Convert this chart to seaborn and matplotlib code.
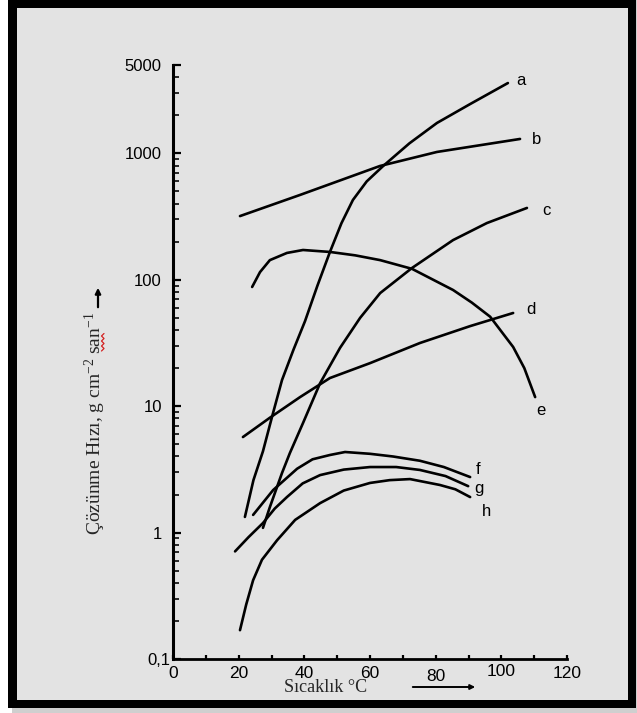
import numpy as np
import pandas as pd
import seaborn as sns
import matplotlib.pyplot as plt
import matplotlib.transforms as mtransforms
from matplotlib.patches import Rectangle
from matplotlib.lines import Line2D
from matplotlib.ticker import FixedLocator, LogLocator, NullFormatter

# --- dissolution rate curves: temperature (°C) vs rate (g cm^-2 s^-1) ---
a_temp = [21.9, 24.5, 27.4, 30.3, 33.2, 36.7, 40.2, 44.0, 47.8, 51.3, 54.8, 59.0,
          64.0, 72.0, 80.4, 90.5, 102.0]
a_rate = [1.33, 2.6, 4.4, 8.5, 16.1, 28, 47, 90, 166, 280, 428, 600,
          794, 1200, 1740, 2455, 3600]

b_temp = [20.4, 38.7, 63.0, 80.4, 105.7]
b_rate = [319, 469, 794, 1026, 1300]

c_temp = [27.4, 29.5, 33.2, 35.6, 39.6, 44.8, 50.9, 57.0, 63.1, 72.8, 85.3, 95.6, 107.8]
c_rate = [1.09, 1.59, 2.96, 4.26, 7.36, 15.2, 29, 50, 78.5, 124, 206, 281, 370]

d_temp = [21.3, 29.5, 38.7, 47.8, 60.0, 75.2, 90.5, 103.6]
d_rate = [5.7, 8.1, 11.8, 16.7, 21.9, 31.6, 43, 54.6]

e_temp = [24.1, 26.5, 29.5, 34.7, 39.6, 47.8, 55.5, 63.1, 72.8, 85.3, 91.0,
          96.6, 103.6, 107.0, 110.3]
e_rate = [87.7, 115, 143, 163, 172, 166, 156, 143, 122, 83, 66,
          51, 29.4, 20, 11.8]

f_temp = [24.4, 30.5, 37.8, 42.5, 47.8, 52.4, 60.0, 67.0, 75.2, 82.5, 90.5]
f_rate = [1.38, 2.17, 3.2, 3.8, 4.11, 4.34, 4.2, 4.0, 3.7, 3.3, 2.75]

g_temp = [18.9, 23.0, 27.4, 31.0, 34.7, 39.5, 44.8, 52.0, 60.0, 68.0, 75.2, 83.0, 89.9]
g_rate = [0.71, 0.92, 1.19, 1.55, 1.91, 2.45, 2.85, 3.15, 3.30, 3.3, 3.13, 2.8, 2.33]

h_temp = [20.4, 22.3, 24.4, 27.1, 31.7, 37.2, 44.8, 52.0, 60.0, 66.0, 72.2, 81.3, 86.0, 90.5]
h_rate = [0.169, 0.27, 0.42, 0.61, 0.87, 1.26, 1.71, 2.15, 2.47, 2.6, 2.65, 2.38, 2.2, 1.91]

curve_names = ["a", "b", "c", "d", "e", "f", "g", "h"]
temps = [a_temp, b_temp, c_temp, d_temp, e_temp, f_temp, g_temp, h_temp]
rates = [a_rate, b_rate, c_rate, d_rate, e_rate, f_rate, g_rate, h_rate]

y_ticks = [0.1, 1, 10, 100, 1000, 5000]
y_ticklabels = ["0,1", "1", "10", "100", "1000", "5000"]
x_ticks = [0, 20, 40, 60, 80, 100, 120]
x_ticklabels = ["0", "20", "40", "60", "80", "100", "120"]

# where each curve letter sits (temperature, rate)
label_pos = {"a": (106, 3800), "b": (110.6, 1276), "c": (113.6, 356),
             "d": (109, 57.7), "e": (112, 9.3), "f": (92.9, 3.13),
             "g": (93.2, 2.25), "h": (95.6, 1.46)}

df = pd.concat(
    [pd.DataFrame({"curve": n, "temp": t, "rate": r})
     for n, t, r in zip(curve_names, temps, rates)],
    ignore_index=True)

sns.set_theme(style="ticks")
plt.rcParams["font.family"] = ["Liberation Sans", "DejaVu Sans"]
plt.rcParams["mathtext.default"] = "regular"

W, H = 637, 713
fig = plt.figure(figsize=(W / 100, H / 100), dpi=100)
fig.patch.set_facecolor("white")


def fx(px):
    return px / W


def fy(py):
    return 1 - py / H


# page frame: soft shadow, black border, grey page
fig.add_artist(Rectangle((fx(12), 0), fx(625), 1, transform=fig.transFigure,
                         facecolor="#cfcfcf", edgecolor="none", zorder=-12))
fig.add_artist(Rectangle((fx(8), fy(708)), fx(628), 708 / H, transform=fig.transFigure,
                         facecolor="black", edgecolor="none", zorder=-11))
fig.add_artist(Rectangle((fx(17), fy(700)), fx(611), 692 / H, transform=fig.transFigure,
                         facecolor="#e3e3e3", edgecolor="none", zorder=-10))

ax = fig.add_axes([fx(173), fy(659), fx(394), 594 / H])
ax.set_facecolor("none")

sns.lineplot(data=df, x="temp", y="rate", units="curve", estimator=None,
             sort=False, color="black", linewidth=1.9, ax=ax, legend=False)

ax.set_yscale("log")
ax.set_xlim(0, 120)
ax.set_ylim(0.1, 5000)

ax.yaxis.set_major_locator(FixedLocator(y_ticks))
ax.set_yticklabels(y_ticklabels)
ax.yaxis.set_minor_locator(LogLocator(base=10, subs=range(2, 10)))
ax.yaxis.set_minor_formatter(NullFormatter())
ax.set_xticks(x_ticks)
ax.set_xticklabels(x_ticklabels)
ax.xaxis.set_minor_locator(FixedLocator([10, 30, 50, 70, 90, 110]))

ax.tick_params(axis="y", which="major", direction="in", length=6, width=1.6,
               pad=8, labelsize=12, colors="black")
ax.tick_params(axis="y", which="minor", direction="in", length=4, width=1.4)
ax.tick_params(axis="x", which="both", direction="in", length=3, width=1.6,
               pad=5, labelsize=12.5, colors="black")

for side in ["top", "right"]:
    ax.spines[side].set_visible(False)
ax.spines["left"].set_linewidth(2.2)
ax.spines["bottom"].set_linewidth(2.0)
ax.spines["left"].set_color("black")
ax.spines["bottom"].set_color("black")
ax.set_xlabel("")
ax.set_ylabel("")


def shift(label, dx_px, dy_px):
    off = mtransforms.ScaledTranslation(dx_px / 100, dy_px / 100, fig.dpi_scale_trans)
    label.set_transform(label.get_transform() + off)


ylabels = ax.get_yticklabels()
shift(ylabels[0], 8, 0)
xlabels = ax.get_xticklabels()
shift(xlabels[4], 0, -3)
shift(xlabels[5], 0, 2)

for name, (tx, ty) in label_pos.items():
    ax.text(tx, ty, name, fontsize=12, ha="center", va="center", color="black")

# axis titles with their arrows
fig.text(fx(95), fy(423), "Çözünme Hızı, g cm$^{-2}$ san$^{-1}$", rotation=90,
         ha="center", va="center", fontsize=14, family="Liberation Serif")
fig.add_artist(plt.Annotation("", xy=(fx(98), fy(285)), xytext=(fx(98), fy(310)),
                              xycoords="figure fraction", textcoords="figure fraction",
                              arrowprops=dict(arrowstyle="-|>", color="black", lw=1.6,
                                              mutation_scale=8)))
# red spell-check squiggle under "san"
sq_y = np.arange(351, 331, -2.5)
sq_x = np.where(np.arange(len(sq_y)) % 2 == 0, 101.5, 104.0)
fig.add_artist(Line2D(fx(sq_x), fy(sq_y), transform=fig.transFigure,
                      color="#d42020", lw=0.9))

fig.text(fx(326), fy(688), "Sıcaklık °C", ha="center", va="center",
         fontsize=13, family="Liberation Serif")
fig.add_artist(plt.Annotation("", xy=(fx(478), fy(687)), xytext=(fx(410), fy(687)),
                              xycoords="figure fraction", textcoords="figure fraction",
                              arrowprops=dict(arrowstyle="-|>", color="black", lw=1.4,
                                              mutation_scale=7)))

fig.savefig("out.png", dpi=100, facecolor=fig.get_facecolor())
